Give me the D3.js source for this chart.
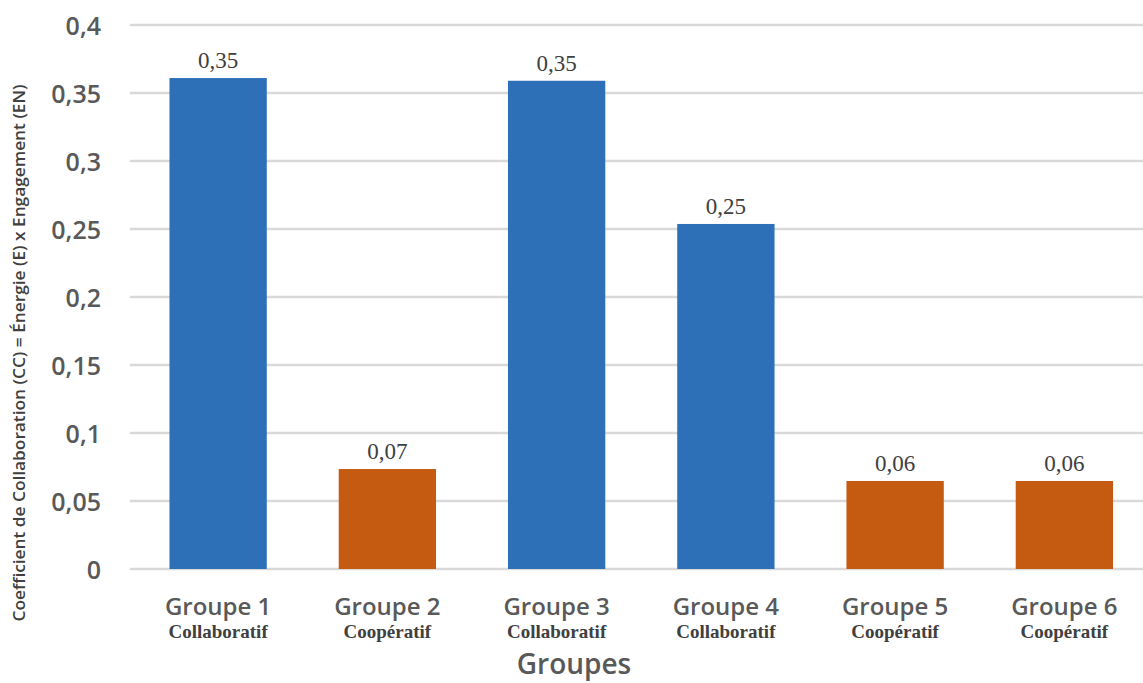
<!DOCTYPE html>
<html><head><meta charset="utf-8">
<script src="https://cdn.jsdelivr.net/npm/d3@7"></script>
<style>body{margin:0;background:#fff}svg{display:block}</style>
</head><body>
<svg id="c" width="1143" height="683"></svg>
<script>
const groups = ["Groupe 1","Groupe 2","Groupe 3","Groupe 4","Groupe 5","Groupe 6"];
const types = ["Collaboratif","Coopératif","Collaboratif","Collaboratif","Coopératif","Coopératif"];
const values = [0.361, 0.0735, 0.359, 0.2537, 0.0647, 0.0647];
const valueLabels = ["0,35","0,07","0,35","0,25","0,06","0,06"];
const yTicks = [0,0.05,0.1,0.15,0.2,0.25,0.3,0.35,0.4];
const yTickLabels = ["0","0,05","0,1","0,15","0,2","0,25","0,3","0,35","0,4"];
const colors = {"Collaboratif":"#2E70B7","Coopératif":"#C55A11"};

const svg = d3.select("#c");
const x = d3.scaleBand().domain(groups).range([133.5,1149]).paddingInner(0.425).paddingOuter(0.2125);
const y = d3.scaleLinear().domain([0,0.4]).range([569,25]);

const grid = svg.append("g");
grid.selectAll("line").data(yTicks).join("line")
  .attr("x1",130).attr("x2",1143)
  .attr("y1",d=>y(d)).attr("y2",d=>y(d))
  .attr("stroke","#d9d9d9").attr("stroke-width",2.5);

const yAxis = svg.append("g").attr("transform","translate(104,0)")
  .call(d3.axisLeft(y).tickValues(yTicks).tickSize(0).tickFormat((d,i)=>yTickLabels[i]));
yAxis.select(".domain").remove();
yAxis.selectAll("text").attr("font-family","'Open Sans',sans-serif").attr("font-size",25)
  .attr("font-weight",600).attr("fill","#595959").attr("dx",0).attr("dy","0.36em");

svg.append("g").selectAll("rect").data(values).join("rect")
  .attr("x",(d,i)=>x(groups[i])).attr("width",x.bandwidth())
  .attr("y",d=>y(d)).attr("height",d=>y(0)-y(d))
  .attr("fill",(d,i)=>colors[types[i]]);

svg.append("g").selectAll("text").data(values).join("text")
  .attr("x",(d,i)=>x(groups[i])+x.bandwidth()/2).attr("y",d=>y(d)-10)
  .attr("text-anchor","middle").attr("font-family","'Liberation Serif',serif")
  .attr("font-size",23).attr("fill","#404040").text((d,i)=>valueLabels[i]);

const xAxis = svg.append("g").attr("transform","translate(0,569)")
  .call(d3.axisBottom(x).tickSize(0).tickPadding(0));
xAxis.select(".domain").remove();
xAxis.selectAll("text").attr("y",46).attr("dy",0)
  .attr("font-family","'Open Sans',sans-serif").attr("font-size",24).attr("font-weight",600)
  .attr("fill","#595959");

svg.append("g").selectAll("text").data(types).join("text")
  .attr("x",(d,i)=>x(groups[i])+x.bandwidth()/2).attr("y",638)
  .attr("text-anchor","middle").attr("font-family","'Liberation Serif',serif")
  .attr("font-weight","bold").attr("font-size",19).attr("fill","#404040").text(d=>d);

svg.append("text").attr("x",574).attr("y",674).attr("text-anchor","middle")
  .attr("font-family","'Open Sans',sans-serif").attr("font-size",28).attr("font-weight",600)
  .attr("fill","#595959").text("Groupes");

svg.append("text").attr("transform","translate(25,353) rotate(-90)").attr("text-anchor","middle")
  .attr("font-family","'Open Sans',sans-serif").attr("font-size",15.5).attr("font-weight",600)
  .attr("fill","#404040").attr("textLength",537).attr("lengthAdjust","spacingAndGlyphs")
  .text("Coefficient de Collaboration (CC) = Énergie (E) x Engagement (EN)");
</script>
</body></html>
